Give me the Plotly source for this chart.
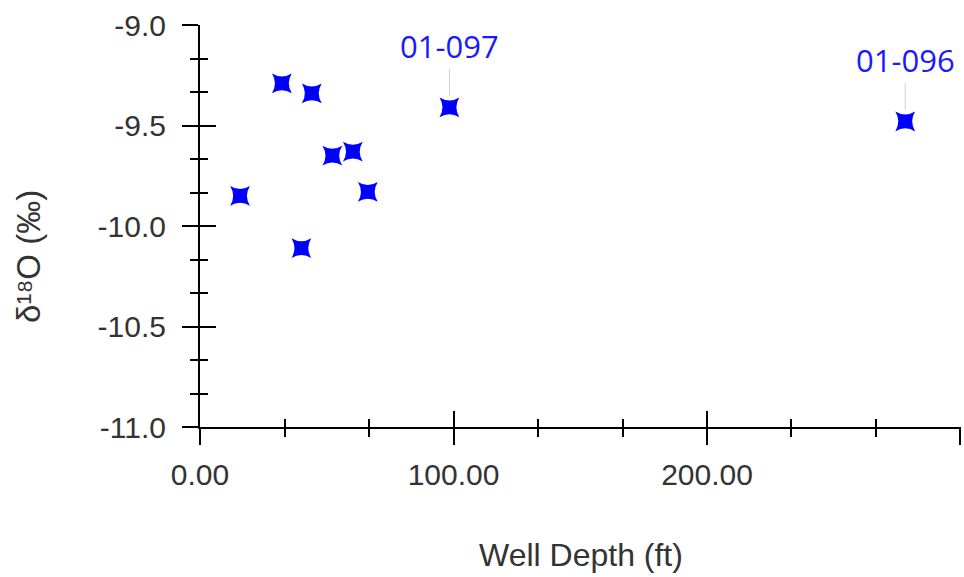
import plotly.graph_objects as go

# Data
well_depth = [15.8, 32.3, 44.1, 40.0, 52.2, 60.3, 66.2, 98.4, 278.2]
d18o = [-9.85, -9.29, -9.34, -10.11, -9.65, -9.63, -9.83, -9.41, -9.48]
labels = ["", "", "", "", "", "", "", "01-097", "01-096"]

x_ticks = [0, 100, 200, 300]
x_ticktext = ["0.00", "100.00", "200.00", " "]
y_ticks = [-11.0, -10.5, -10.0, -9.5, -9.0]
y_ticktext = ["-11.0", "-10.5", "-10.0", "-9.5", "-9.0"]
x_range = [0, 300.2]
y_range = [-11.0, -9.0]

TICK_FONT = dict(family="Liberation Sans, Arial", size=30, color="#333333")
XTITLE_FONT = dict(family="Liberation Sans, Arial", size=32, color="#333333")
YTITLE_FONT = dict(family="Liberation Sans, Arial", size=33, color="#333333")

fig = go.Figure()
fig.add_trace(go.Scatter(
    x=well_depth, y=d18o, mode="markers",
    marker=dict(symbol="star-diamond", angle=45, size=20, color="#0000ff",
                line=dict(width=0)),
    hoverinfo="skip", showlegend=False,
))
# invisible trace for overlay axes (inward half of crossing ticks)
fig.add_trace(go.Scatter(x=[], y=[], xaxis="x2", yaxis="y2",
                         showlegend=False, hoverinfo="skip"))

for xv, yv, lab in zip(well_depth, d18o, labels):
    if lab:
        fig.add_annotation(
            x=xv, y=yv, text=lab, showarrow=True, arrowhead=0,
            arrowwidth=1, arrowcolor="#d0d0d0", ax=0, ay=-61, standoff=12,
            font=dict(family="Open Sans", size=31, color="#1a1aff"),
        )

axis_common = dict(showgrid=False, zeroline=False, tickwidth=2,
                   tickcolor="black", automargin=False)

fig.update_layout(
    width=964, height=577,
    margin=dict(l=200, r=3, t=25, b=150),
    paper_bgcolor="white", plot_bgcolor="white",
    xaxis=dict(range=x_range, tickvals=x_ticks, ticktext=x_ticktext,
               ticks="outside", ticklen=16, showline=True, linecolor="black",
               linewidth=2, tickfont=TICK_FONT, ticklabelstandoff=4,
               minor=dict(dtick=100/3, tick0=0, ticks="outside", ticklen=8,
                          tickwidth=2, tickcolor="black"),
               **axis_common),
    yaxis=dict(range=y_range, tickvals=y_ticks, ticktext=y_ticktext,
               ticks="outside", ticklen=16, showline=True, linecolor="black",
               linewidth=2, tickfont=TICK_FONT, ticklabelstandoff=10,
               minor=dict(dtick=0.5/3, tick0=-11, ticks="outside", ticklen=8,
                          tickwidth=2, tickcolor="black"),
               **axis_common),
    xaxis2=dict(range=x_range, overlaying="x", anchor="y2", side="bottom",
                tickvals=x_ticks, ticks="inside", ticklen=16,
                showticklabels=False, showline=False,
                minor=dict(dtick=100/3, tick0=0, ticks="inside", ticklen=8,
                           tickwidth=2, tickcolor="black"),
                **axis_common),
    yaxis2=dict(range=y_range, overlaying="y", anchor="x2", side="left",
                tickvals=y_ticks, ticks="inside", ticklen=16,
                showticklabels=False, showline=False,
                minor=dict(dtick=0.5/3, tick0=-11, ticks="inside", ticklen=8,
                           tickwidth=2, tickcolor="black"),
                **axis_common),
)

fig.add_annotation(text="Well Depth (ft)", xref="paper", yref="paper",
                   x=0.5, y=-0.318, yanchor="middle", showarrow=False,
                   font=XTITLE_FONT)
fig.add_annotation(text="δ¹⁸O (‰)", xref="paper", yref="paper",
                   x=-0.2247, y=0.423, xanchor="center", yanchor="middle",
                   textangle=-90, showarrow=False, font=YTITLE_FONT)

# remove the default page margin so the figure sits at the window's corner
fig.write_html("out.html",
               config={"displayModeBar": False},
               post_script="document.body.style.margin='0';document.body.style.overflow='hidden';")
